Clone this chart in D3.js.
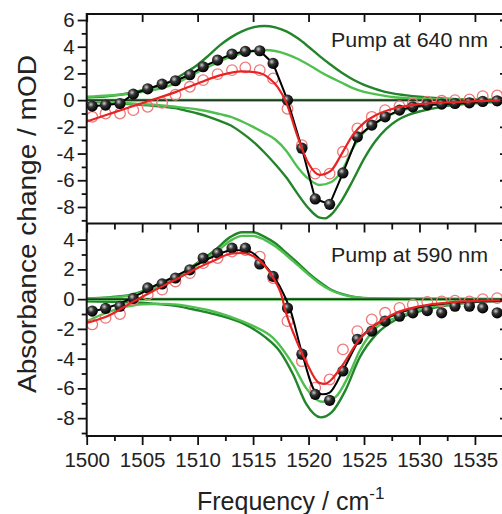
<!DOCTYPE html>
<html><head><meta charset="utf-8">
<script src="https://cdn.jsdelivr.net/npm/d3@7"></script>
<style>body{margin:0;background:#fff}svg{display:block}text{font-family:"Liberation Sans",Arial,sans-serif;fill:#222}</style>
</head><body><svg id="c" width="502" height="514"></svg>
<script>
// ---------------- DATA ----------------
const freq = [1500.5,1501.7,1503.0,1504.2,1505.5,1506.8,1508.0,1509.3,1510.5,1511.8,1513.1,1514.3,1515.6,1516.8,1518.1,
              1519.4,1520.6,1521.9,1523.1,1524.4,1525.7,1526.9,1528.2,1529.4,1530.7,1532.0,1533.2,1534.5,1535.7,1537.0];
// Pump at 640 nm (top)
const topBlack = [-0.45,-0.37,-0.25,0.45,0.85,1.2,1.45,1.9,2.5,3.0,3.45,3.65,3.7,2.75,0.0,
                  -3.6,-7.4,-7.8,-5.45,-2.75,-1.87,-1.25,-0.75,-0.5,-0.35,-0.3,-0.25,-0.2,-0.1,-0.05];
const topRed = [-1.25,-1.0,-1.0,-0.75,-0.5,-0.2,0.4,1.0,1.5,1.95,2.25,2.45,2.25,1.62,-0.65,
                -3.37,-5.5,-5.5,-3.87,-2.12,-1.25,-0.75,-0.45,-0.25,-0.12,-0.05,0.0,0.05,0.3,0.35];
const topRedFit = [[1500,-1.6],[1502,-1.05],[1504,-0.5],[1506,0.05],[1508,0.6],[1510,1.25],[1512,1.85],[1514,2.15],
                   [1515.5,2.05],[1516.5,1.6],[1517.2,1.0],[1518,-0.2],[1519,-2.7],[1520,-4.75],[1521,-5.6],[1522,-5.3],
                   [1523,-4.0],[1524,-2.6],[1525,-1.7],[1526,-1.15],[1528,-0.55],[1530,-0.3],[1533,-0.15],[1536,-0.05],[1538,0]];
const topDarkPos = [[1500,0.2],[1502,0.3],[1504,0.55],[1506,0.95],[1507,1.2],[1508,1.6],[1509,2.1],[1510,2.65],[1511,3.35],
                    [1512,4.1],[1513,4.7],[1514,5.15],[1515,5.45],[1516,5.55],[1517,5.45],[1518,5.15],[1519,4.65],[1520,4.0],
                    [1521,3.3],[1522,2.65],[1523,2.05],[1524,1.55],[1525,1.15],[1526,0.85],[1527,0.6],[1528,0.45],[1530,0.25],
                    [1532,0.12],[1535,0.05],[1538,0.02]];
const topLightPos = [[1500,0.25],[1502,0.35],[1504,0.5],[1506,0.75],[1507,0.95],[1508,1.25],[1509,1.65],[1510,2.1],[1511,2.5],
                     [1512,2.9],[1513,3.25],[1514,3.5],[1515,3.7],[1516,3.75],[1517,3.68],[1518,3.45],[1519,3.1],[1520,2.65],
                     [1521,2.15],[1522,1.7],[1523,1.3],[1524,0.9],[1525,0.62],[1526,0.45],[1527,0.3],[1528,0.2],[1530,0.1],
                     [1533,0.04],[1538,0.01]];
const topDarkNeg = [[1500,-0.1],[1503,-0.25],[1506,-0.42],[1508,-0.6],[1509,-0.8],[1510,-1.0],[1511,-1.25],[1512,-1.55],
                    [1513,-1.9],[1514,-2.45],[1515,-3.1],[1516,-3.9],[1517,-4.8],[1518,-5.8],[1519,-7.0],[1520,-8.1],
                    [1521,-8.8],[1521.5,-8.85],[1522,-8.6],[1523,-7.5],[1524,-6.0],[1525,-4.4],[1526,-3.1],[1527,-2.15],
                    [1528,-1.5],[1529,-1.1],[1530,-0.85],[1532,-0.5],[1534,-0.3],[1536,-0.18],[1538,-0.12]];
const topLightNeg = [[1500,-0.05],[1503,-0.2],[1506,-0.35],[1508,-0.5],[1510,-0.7],[1511,-0.85],[1512,-1.05],[1513,-1.25],
                     [1514,-1.6],[1515,-2.0],[1516,-2.45],[1517,-2.95],[1518,-3.8],[1519,-5.0],[1520,-5.9],[1521,-6.35],
                     [1522,-6.15],[1523,-5.3],[1524,-3.6],[1525,-2.4],[1526,-1.75],[1527,-1.25],[1528,-0.87],[1530,-0.5],
                     [1532,-0.28],[1535,-0.1],[1538,-0.05]];
// Pump at 590 nm (bottom)
const botBlack = [-0.8,-0.62,-0.48,0.05,0.75,1.02,1.42,1.97,2.76,3.09,3.43,3.43,2.36,1.53,-0.6,
                  -3.7,-6.4,-6.8,-4.83,-2.7,-2.15,-1.48,-1.15,-0.92,-0.77,-0.92,-0.48,-0.48,-0.59,-0.92];
const botRed = [-1.7,-1.26,-1.0,-0.05,0.3,0.64,1.19,1.75,2.42,2.76,3.2,3.3,2.86,1.42,-1.48,
                -4.17,-5.95,-5.4,-3.38,-2.15,-1.37,-0.92,-0.59,-0.37,-0.19,-0.15,-0.1,-0.15,0.0,0.07];
const botBlackFit = [[1500,-0.9],[1502,-0.55],[1504.2,0.12],[1506,0.85],[1508.4,1.69],[1510,2.35],[1511.4,2.86],[1513.2,3.3],
                     [1514.7,3.2],[1515.9,2.42],[1517.4,0.86],[1518.4,-0.82],[1519.4,-3.6],[1520.7,-6.28],[1521.3,-6.4],
                     [1521.9,-6.28],[1523.1,-4.8],[1524.6,-2.7],[1526.1,-1.7],[1527.9,-1.0],[1530,-0.55],[1533,-0.25],
                     [1536,-0.15],[1538,-0.12]];
const botRedFit = [[1500,-1.6],[1502,-1.1],[1504,-0.25],[1506,0.55],[1508,1.3],[1510,2.1],[1511.5,2.6],[1513,3.05],[1514,3.1],
                   [1515,2.9],[1516,2.3],[1517,1.2],[1517.5,0.4],[1518,-1.0],[1518.7,-2.4],[1519.9,-4.4],[1520.9,-5.6],
                   [1521.5,-5.7],[1522,-5.45],[1523.1,-4.4],[1524.6,-2.7],[1526.1,-1.7],[1527.9,-0.92],[1530,-0.48],
                   [1533,-0.2],[1536,-0.1],[1538,-0.08]];
const botDarkPos = [[1500,0.05],[1502,0.12],[1504,0.3],[1506,0.8],[1508,1.45],[1510,2.45],[1511.5,3.25],[1513,4.2],[1514,4.5],
                    [1515,4.5],[1516,4.2],[1517,3.75],[1518,3.1],[1519,2.45],[1520,1.75],[1521,1.15],[1522,0.65],[1523,0.35],
                    [1524,0.17],[1526,0.05],[1530,0.01],[1538,0]];
const botLightPos = [[1500,0.03],[1502,0.1],[1504,0.25],[1506,0.7],[1508,1.35],[1510,2.3],[1511.5,3.05],[1513,3.95],[1514,4.25],
                     [1515,4.25],[1516,4.0],[1517,3.55],[1518,2.95],[1519,2.3],[1520,1.65],[1521,1.05],[1522,0.6],[1523,0.32],
                     [1524,0.15],[1526,0.04],[1538,0]];
const botDarkNeg = [[1500,-0.15],[1503,-0.2],[1506,-0.3],[1508,-0.45],[1510,-0.75],[1512,-1.1],[1514,-1.6],[1516,-2.5],
                    [1517.4,-3.5],[1518.6,-5.05],[1519.8,-7.06],[1521.1,-7.95],[1522.1,-7.6],[1523.3,-6.17],[1524.6,-3.93],
                    [1526.1,-2.37],[1527.9,-1.37],[1530,-0.82],[1533,-0.37],[1536,-0.15],[1538,-0.1]];
const botLightNeg = [[1500,-1.5],[1501,-1.15],[1502,-0.85],[1503,-0.6],[1504,-0.45],[1505,-0.35],[1507,-0.32],[1509,-0.45],
                     [1511,-0.75],[1513,-1.2],[1515,-1.8],[1516.8,-2.6],[1518.6,-4.4],[1519.8,-6.0],[1521.2,-6.9],[1522.4,-6.6],
                     [1523.6,-5.16],[1524.6,-3.49],[1526,-2.0],[1527.9,-1.24],[1530,-0.7],[1533,-0.3],[1536,-0.1],[1538,-0.06]];

const xMajor = [1500,1505,1510,1515,1520,1525,1530,1535];
const xMinor = [1502.5,1507.5,1512.5,1517.5,1522.5,1527.5,1532.5,1537.5];
const topYMajor = [6,4,2,0,-2,-4,-6,-8];
const topYMinor = [5,3,1,-1,-3,-5,-7,-9];
const botYMajor = [4,2,0,-2,-4,-6,-8];
const botYMinor = [3,1,-1,-3,-5,-7,-9];
const labels = {top:"Pump at 640 nm", bottom:"Pump at 590 nm", x:"Frequency / cm", xSup:"-1", y:"Absorbance change / mOD"};

// ---------------- DRAW ----------------
const svg = d3.select("#c");
const C = {dark:"#23852a", light:"#4fc04f", red:"#e82323", redC:"#ef7777"};
const x = d3.scaleLinear().domain([1500,1537.8]).range([86.7,506]);

const defs = svg.append("defs");
const g = defs.append("radialGradient").attr("id","sph").attr("cx","38%").attr("cy","35%").attr("r","65%");
g.append("stop").attr("offset","0%").attr("stop-color","#cfcfcf");
g.append("stop").attr("offset","40%").attr("stop-color","#333");
g.append("stop").attr("offset","100%").attr("stop-color","#000");

const panels = [
  {id:"t", top:14, bot:223, dom:[-9.2,6.45], major:topYMajor, minor:topYMinor, black:topBlack, red:topRed,
   blackFit:null, redFit:topRedFit, dp:topDarkPos, lp:topLightPos, dn:topDarkNeg, ln:topLightNeg, label:labels.top, ly:46.7},
  {id:"b", top:224, bot:436, dom:[-9.2,5.05], major:botYMajor, minor:botYMinor, black:botBlack, red:botRed,
   blackFit:botBlackFit, redFit:botRedFit, dp:botDarkPos, lp:botLightPos, dn:botDarkNeg, ln:botLightNeg, label:labels.bottom, ly:261.5}
];

panels.forEach(p => {
  const y = d3.scaleLinear().domain(p.dom).range([p.bot, p.top]);
  defs.append("clipPath").attr("id","clip"+p.id).append("rect")
    .attr("x",x.range()[0]).attr("y",p.top).attr("width",x.range()[1]-x.range()[0]).attr("height",p.bot-p.top);
  const pg = svg.append("g").attr("clip-path","url(#clip"+p.id+")");
  const line = d3.line().x(d=>x(d[0])).y(d=>y(d[1])).curve(d3.curveMonotoneX);
  const pts = (arr) => freq.map((f,i)=>[f,arr[i]]);

  [[p.dp,C.dark],[p.lp,C.light],[p.dn,C.dark],[p.ln,C.light]].forEach(([d,c]) =>
    pg.append("path").attr("d",line(d)).attr("fill","none").attr("stroke",c).attr("stroke-width",2.4));
  // zero line
  pg.append("line").attr("x1",x.range()[0]).attr("x2",x.range()[1]).attr("y1",y(0)).attr("y2",y(0))
    .attr("stroke",C.light).attr("stroke-width",3);
  pg.append("line").attr("x1",x.range()[0]).attr("x2",x.range()[1]).attr("y1",y(0)).attr("y2",y(0))
    .attr("stroke","#111").attr("stroke-width",1.2);
  // red circles
  pg.selectAll(null).data(pts(p.red)).enter().append("circle")
    .attr("cx",d=>x(d[0])).attr("cy",d=>y(d[1])).attr("r",5.3)
    .attr("fill","none").attr("stroke",C.redC).attr("stroke-width",1.3);
  // black line
  const bl = p.blackFit ? p.blackFit : pts(p.black);
  pg.append("path").attr("d", (p.blackFit ? line : d3.line().x(d=>x(d[0])).y(d=>y(d[1])))(bl))
    .attr("fill","none").attr("stroke","#000").attr("stroke-width",2);
  // black spheres
  pg.selectAll(null).data(pts(p.black)).enter().append("circle")
    .attr("cx",d=>x(d[0])).attr("cy",d=>y(d[1])).attr("r",5.6).attr("fill","url(#sph)");
  // red fit
  pg.append("path").attr("d",line(p.redFit)).attr("fill","none").attr("stroke",C.red).attr("stroke-width",2.2);

  // axes: left major + minor (outward)
  const la = svg.append("g").attr("transform",`translate(${x.range()[0]},0)`)
    .call(d3.axisLeft(y).tickValues(p.major).tickSize(9).tickPadding(3).tickFormat(d=>String(d)));
  la.selectAll("text").attr("font-size",20.5).attr("fill","#222");
  svg.append("g").attr("transform",`translate(${x.range()[0]},0)`)
    .call(d3.axisLeft(y).tickValues(p.minor).tickSize(5).tickFormat(""));
  // right (inward)
  svg.append("g").attr("transform",`translate(${x.range()[1]},0)`)
    .call(d3.axisLeft(y).tickValues(p.major).tickSize(6).tickFormat(""));
  // label
  svg.append("text").attr("x",331).attr("y",p.ly).attr("font-size",20.5)
    .attr("textLength",157).attr("lengthAdjust","spacingAndGlyphs").text(p.label);
});

// top of top panel: inward ticks
svg.append("g").attr("transform","translate(0,14)")
  .call(d3.axisBottom(x).tickValues(xMajor).tickSize(8).tickFormat(""));
// divider: ticks downward
svg.append("g").attr("transform","translate(0,223.5)")
  .call(d3.axisBottom(x).tickValues(xMajor).tickSize(9).tickFormat(""));
svg.append("g").attr("transform","translate(0,223.5)")
  .call(d3.axisBottom(x).tickValues(xMinor).tickSize(6).tickFormat(""));
// bottom axis
const bx = svg.append("g").attr("transform","translate(0,436)")
  .call(d3.axisBottom(x).tickValues(xMajor).tickSize(9).tickPadding(7).tickFormat(d=>String(d)));
bx.selectAll("text").attr("font-size",20.5).attr("fill","#222");
svg.append("g").attr("transform","translate(0,436)")
  .call(d3.axisBottom(x).tickValues(xMinor).tickSize(5).tickFormat(""));

svg.selectAll(".domain").remove();
svg.selectAll(".tick line").attr("stroke","#111").attr("stroke-width",1.8);

// frame
svg.append("rect").attr("x",x.range()[0]).attr("y",14).attr("width",x.range()[1]-x.range()[0]).attr("height",422)
  .attr("fill","none").attr("stroke","#111").attr("stroke-width",2);
svg.append("line").attr("x1",x.range()[0]).attr("x2",x.range()[1]).attr("y1",223.5).attr("y2",223.5)
  .attr("stroke","#111").attr("stroke-width",2);

// titles
const xt = svg.append("text").attr("x",197).attr("y",510).attr("font-size",25);
xt.append("tspan").text(labels.x);
xt.append("tspan").attr("dy",-11).attr("font-size",17).text(labels.xSup);
svg.append("text").attr("transform","translate(36,224) rotate(-90)").attr("text-anchor","middle")
  .attr("font-size",25).attr("textLength",338).attr("lengthAdjust","spacingAndGlyphs").text(labels.y);
</script></body></html>
